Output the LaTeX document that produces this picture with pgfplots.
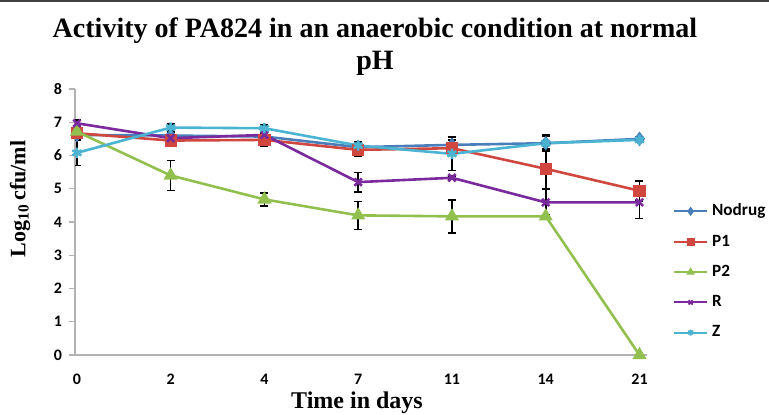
\documentclass[border=0pt]{standalone}
\usepackage{pgfplots}
\pgfplotsset{compat=1.18}
\usepackage{pgfplotstable}
\usepackage{fontspec}
\setmainfont{Liberation Serif}
\newfontfamily\calibri{Carlito}

\definecolor{cNodrug}{HTML}{4A7EBB}
\definecolor{cP1}{HTML}{D0473F}
\definecolor{cP2}{HTML}{92C04F}
\definecolor{cR}{HTML}{7A2A9C}
\definecolor{cZ}{HTML}{4BB4D2}

% x = category index (days 0,2,4,7,11,14,21), y = log10 cfu/ml, e = error
\pgfplotstableread{
x y e
0 6.62 0.12
1 6.60 0.10
2 6.57 0.10
3 6.25 0.15
4 6.32 0.15
5 6.37 0.25
6 6.50 0.05
}\nodrug
\pgfplotstableread{
x y e
0 6.67 0.10
1 6.45 0.10
2 6.47 0.20
3 6.17 0.20
4 6.22 0.10
5 5.60 0.60
6 4.94 0.30
}\pone
\pgfplotstableread{
x y e
0 6.72 0.10
1 5.40 0.45
2 4.68 0.20
3 4.20 0.42
4 4.17 0.50
5 4.17 0.05
6 0.00 0.00
}\ptwo
\pgfplotstableread{
x y e
0 6.97 0.10
1 6.52 0.10
2 6.62 0.10
3 5.20 0.29
4 5.33 0.05
5 4.59 0.40
6 4.59 0.48
}\rdata
\pgfplotstableread{
x y e
0 6.08 0.38
1 6.84 0.10
2 6.82 0.10
3 6.30 0.10
4 6.05 0.50
5 6.37 0.20
6 6.47 0.05
}\zdata

\begin{document}
\begin{tikzpicture}
\useasboundingbox (-37.5pt,-29.5pt) rectangle (347pt,177.5pt);
\fill[black!75] (-37.5pt,176.5pt) rectangle (347pt,177.5pt);
\begin{axis}[
    at={(0,0)}, anchor=south west,
    scale only axis, width=286pt, height=133pt,
    xmin=-0.02, xmax=6.08, ymin=0, ymax=8,
    axis x line*=bottom, axis y line*=left,
    axis line style={black!30, line width=0.6pt},
    xtick={0,...,6}, xticklabels={0,2,4,7,11,14,21},
    ytick={0,...,8},
    x tick style={draw=none},
    y tick style={black!30, line width=0.6pt},
    tick align=outside, major tick length=3pt,
    tick label style={font=\calibri\bfseries\fontsize{8}{9}\selectfont},
    /pgf/number format/assume math mode=true,
    xticklabel style={yshift=-3pt},
    every axis plot/.append style={line width=1.3pt,
        error bars/error mark options={black, line width=0.8pt, rotate=90, mark size=2pt},
        error bars/error bar style={black, line width=0.8pt}},
    legend style={draw=none, fill=none, at={(1.045,0.585)}, anchor=north west,
        font=\calibri\bfseries\fontsize{8.6}{10}\selectfont,
        row sep=4pt, inner sep=0pt},
    legend cell align=left,
    legend image code/.code={
        \draw[mark repeat=2, mark phase=2, line width=1pt, mark size=1.5pt]
            plot coordinates {(0cm,0cm) (0.29cm,0cm) (0.58cm,0cm)};},
]
\addplot[color=cNodrug, mark=diamond*, mark size=2.6pt, mark options={fill=cNodrug},
    error bars/.cd, y dir=both, y explicit] table[x=x, y=y, y error=e] {\nodrug};
\addlegendentry{Nodrug}
\addplot[color=cP1, mark=square*, mark size=2.4pt, mark options={fill=cP1},
    error bars/.cd, y dir=both, y explicit] table[x=x, y=y, y error=e] {\pone};
\addlegendentry{P1}
\addplot[color=cP2, mark=triangle*, mark size=2.8pt, mark options={fill=cP2},
    error bars/.cd, y dir=both, y explicit] table[x=x, y=y, y error=e] {\ptwo};
\addlegendentry{P2}
\addplot[color=cR, mark=x, mark size=2.6pt,
    error bars/.cd, y dir=both, y explicit] table[x=x, y=y, y error=e] {\rdata};
\addlegendentry{R}
\addplot[color=cZ, mark=asterisk, mark size=2.6pt,
    error bars/.cd, y dir=both, y explicit] table[x=x, y=y, y error=e] {\zdata};
\addlegendentry{Z}
\end{axis}
\node[font=\bfseries\fontsize{14}{16}\selectfont, align=center] at (150pt,154pt)
    {Activity of PA824 in an anaerobic condition at normal\\pH};
\node[font=\bfseries\fontsize{12}{14}\selectfont] at (141pt,-24pt) {Time in days};
\node[font=\bfseries\fontsize{11}{13}\selectfont, rotate=90] at (-27.5pt,78pt)
    {Log\textsubscript{10}\,cfu/ml};
\end{tikzpicture}
\end{document}
